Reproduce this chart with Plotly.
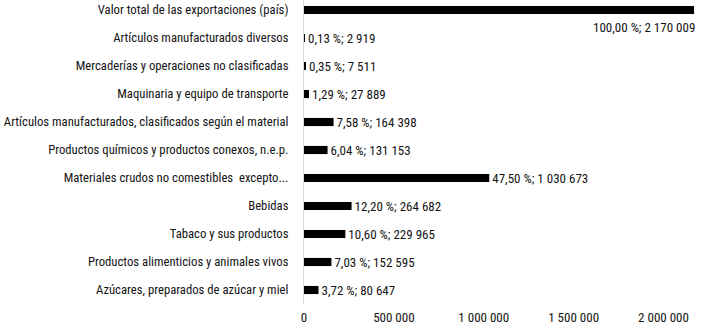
import plotly.graph_objects as go

categories = [
    "Valor total de las exportaciones (país)",
    "Artículos manufacturados diversos",
    "Mercaderías y operaciones no clasificadas",
    "Maquinaria y equipo de transporte",
    "Artículos manufacturados, clasificados según el material",
    "Productos químicos y productos conexos, n.e.p.",
    "Materiales crudos no comestibles  excepto...",
    "Bebidas",
    "Tabaco y sus productos",
    "Productos alimenticios y animales vivos",
    "Azúcares, preparados de azúcar y miel",
]
values = [2170009, 2919, 7511, 27889, 164398, 131153, 1030673, 264682, 229965, 152595, 80647]
percents = [100.00, 0.13, 0.35, 1.29, 7.58, 6.04, 47.50, 12.20, 10.60, 7.03, 3.72]
x_ticks = [0, 500000, 1000000, 1500000, 2000000]


def fmt_int(v):
    return f"{v:,}".replace(",", "\u00a0")


def fmt_label(p, v):
    return f"{p:.2f}".replace(".", ",") + "\u00a0%; " + fmt_int(v)


labels = [fmt_label(p, v) for p, v in zip(percents, values)]
bar_text = [""] + labels[1:]

FONT = "Roboto Condensed, DejaVu Sans Condensed, sans-serif"
FS_CAT = 12.7
FS_LBL = 13
COLOR = "#141414"

fig = go.Figure(
    go.Bar(
        x=values,
        y=categories,
        orientation="h",
        marker=dict(color="#000000", line=dict(width=0)),
        width=0.29,
        text=bar_text,
        textposition="outside",
        textfont=dict(family=FONT, size=FS_LBL, color=COLOR),
        constraintext="none",
        cliponaxis=False,
        hoverinfo="skip",
    )
)

fig.add_annotation(
    x=values[0],
    y=categories[0],
    text=labels[0],
    showarrow=False,
    xanchor="right",
    yanchor="middle",
    yshift=-17,
    xshift=3,
    font=dict(family=FONT, size=FS_LBL, color=COLOR),
)

fig.update_layout(
    width=701,
    height=328,
    margin=dict(l=304, r=0, t=0, b=24),
    paper_bgcolor="white",
    plot_bgcolor="white",
    showlegend=False,
    font=dict(family=FONT, size=FS_CAT, color=COLOR),
)
fig.update_xaxes(
    range=[0, 2208600],
    tickvals=x_ticks,
    ticktext=[fmt_int(t) for t in x_ticks],
    showgrid=False,
    zeroline=False,
    showline=False,
    ticks="",
    ticklabelstandoff=4,
    automargin=False,
    tickfont=dict(family=FONT, size=FS_LBL, color=COLOR),
)
fig.update_yaxes(
    type="category",
    categoryorder="array",
    categoryarray=categories,
    range=[10.5, -0.357],
    showgrid=False,
    zeroline=False,
    showline=True,
    linecolor="#d9d9d9",
    linewidth=1,
    ticks="",
    ticklabelstandoff=12,
    automargin=False,
    tickfont=dict(family=FONT, size=FS_CAT, color=COLOR),
)

fig.write_html(
    "out.html",
    config={"displayModeBar": False},
    post_script="document.body.style.margin='0';",
)
